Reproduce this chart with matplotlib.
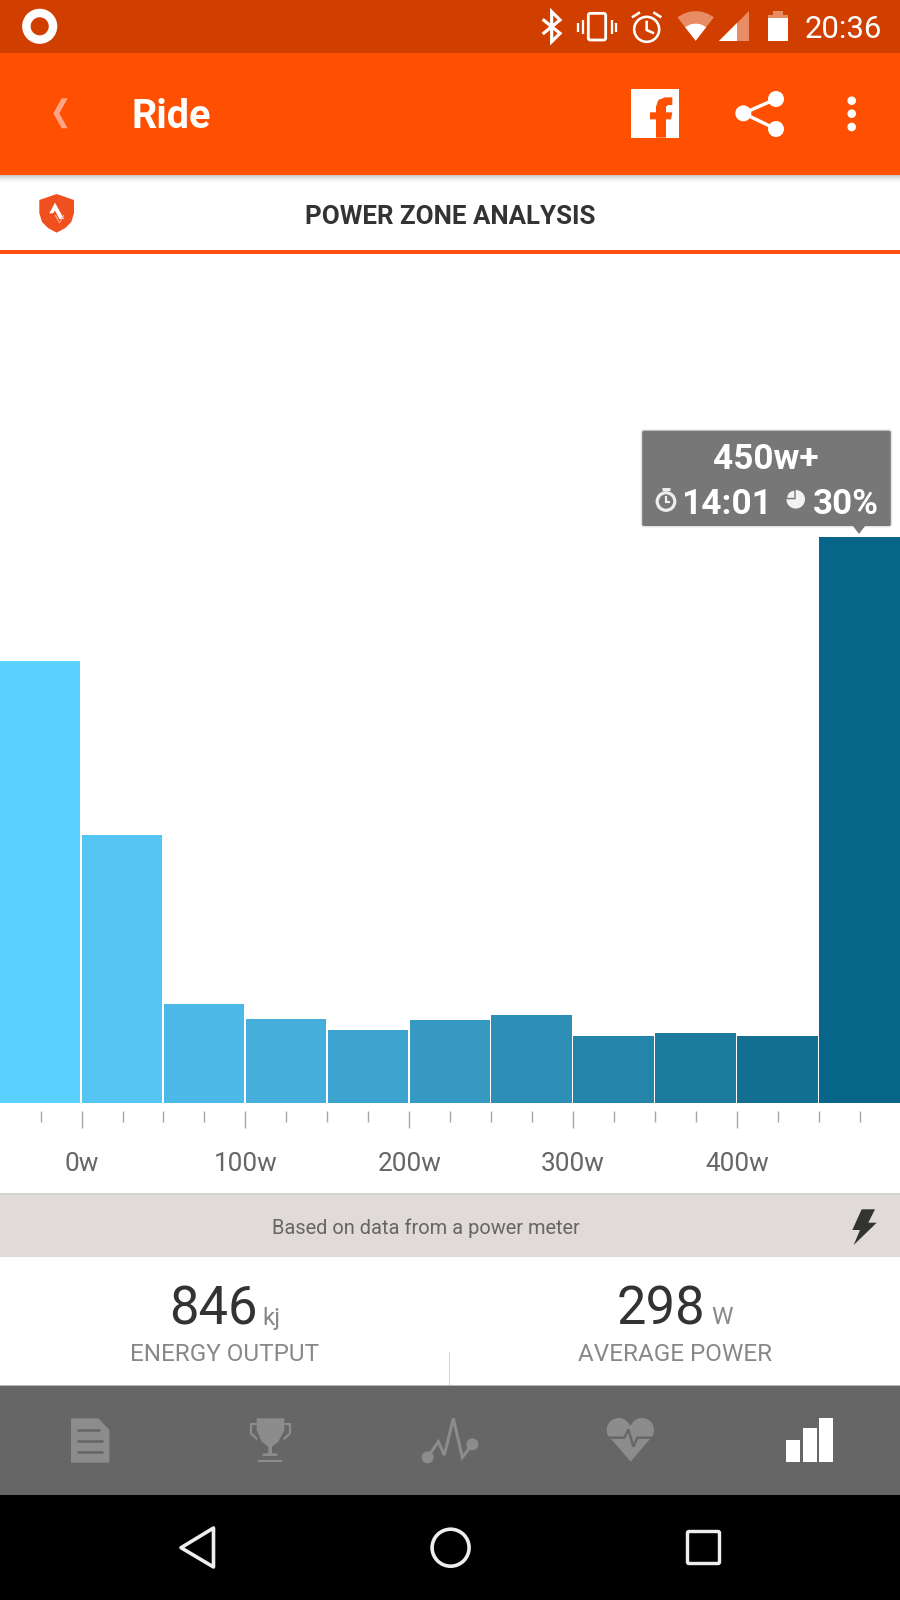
import matplotlib
matplotlib.use("Agg")
import matplotlib.pyplot as plt
from matplotlib.patches import Rectangle, Polygon, Circle, Wedge, FancyBboxPatch

plt.rcParams['font.family'] = ['Roboto', 'DejaVu Sans']

# ---- data ----
zone_starts = [-50, 0, 50, 100, 150, 200, 250, 300, 350, 400, 450]
zone_share = [23.4, 14.2, 5.25, 4.45, 3.87, 4.38, 4.65, 3.57, 3.73, 3.57, 30.0]
zone_colors = ['#5BD1FF', '#55C6F4', '#4CB9E8', '#45AEDB', '#3CA4CE', '#3599C2',
               '#2D8FB6', '#2484AA', '#1C7A9F', '#147092', '#066589']
major_ticks = [0, 100, 200, 300, 400]
major_labels = ['0w', '100w', '200w', '300w', '400w']
minor_ticks = [-25, 25, 50, 75, 125, 150, 175, 225, 250, 275, 325, 350, 375, 425, 450, 475]

W, H = 900, 1600
fig = plt.figure(figsize=(9, 16), dpi=100, facecolor='white')

# ---- chart ----
base_y, top_y = 1103, 253
ax = fig.add_axes([0, 1 - base_y / H, 1, (base_y - top_y) / H], zorder=1)
ax.patch.set_alpha(0)
ax.bar([s + 0.2 for s in zone_starts], zone_share, width=49.1, align='edge', color=zone_colors, linewidth=0)
ax.set_xlim(-49.8, 499.6)
ax.set_ylim(0, (base_y - top_y) / 18.87)
for s in ['top', 'left', 'right']:
    ax.spines[s].set_visible(False)
ax.spines['bottom'].set_position(('outward', 5.6))
ax.spines['bottom'].set_visible(False)
ax.set_yticks([])
ax.set_xticks(major_ticks)
ax.set_xticklabels(major_labels, fontsize=18.8, color='#666666')
ax.set_xticks(minor_ticks, minor=True)
ax.tick_params(axis='x', which='major', length=12.2, width=1.0, color='#AAA6A6', pad=17.5)
ax.tick_params(axis='x', which='minor', length=7.9, width=1.0, color='#AAA6A6')

# ---- screen chrome in pixel coordinates ----
ui = fig.add_axes([0, 0, 1, 1], zorder=2)
ui.set_xlim(0, W)
ui.set_ylim(H, 0)
ui.axis('off')
ui.patch.set_alpha(0)


def rect(x0, y0, x1, y1, c, **kw):
    ui.add_patch(Rectangle((x0, y0), x1 - x0, y1 - y0, facecolor=c, edgecolor='none', **kw))


def poly(pts, c, **kw):
    ui.add_patch(Polygon(pts, closed=True, facecolor=c, edgecolor='none', **kw))


def line(xs, ys, c, lw, **kw):
    ui.plot(xs, ys, color=c, lw=lw * 0.72, solid_capstyle=kw.pop('cap', 'butt'),
            solid_joinstyle=kw.pop('join', 'miter'), **kw)


def disc(x, y, r, c):
    ui.add_patch(Circle((x, y), r, facecolor=c, edgecolor='none'))


def ring(x, y, r, c, lw):
    ui.add_patch(Circle((x, y), r, facecolor='none', edgecolor=c, lw=lw * 0.72))


def txt(x, y, s, size, c, ha='center', weight='normal'):
    ui.text(x, y, s, fontsize=size, color=c, ha=ha, va='baseline', fontweight=weight)


def z5(x, y):
    return 530 + x / 3, y / 3


def pts5(seq):
    return [z5(x, y) for x, y in seq]


# bars of colour
rect(0, 0, W, 53, '#D13F00')
rect(0, 53, W, 175, '#FF4F00')
for i, c in enumerate(['#C9C9C9', '#D4D4D4', '#DEDEDE', '#E7E7E7', '#EFEFEF', '#F4F4F4', '#F8F8F8', '#FBFBFB']):
    rect(0, 175 + i, W, 176 + i, c)
rect(0, 250, W, 253.5, '#F9500F')
rect(0, 1194, W, 1257, '#E0DAD8')
rect(0, 1193, W, 1194.5, '#D5D3D3')
rect(0, 1385, W, 1495, '#666666')
rect(0, 1384.5, W, 1385.8, '#B5B5B5')
rect(0, 1495, W, 1600, '#000000')
rect(449.3, 1352, 450.3, 1385, '#D4D4D4')

# status bar
ring(39.7, 26.3, 13.3, 'white', 8.5)
wh = 'white'
semi = '#E88C64'
xs, ys = zip(*pts5([(38, 58), (90, 100), (65, 125), (65, 35), (90, 60), (38, 102)]))
line(xs, ys, wh, 3.2)
ui.add_patch(FancyBboxPatch(z5(175, 40), 52 / 3, 80 / 3, boxstyle='round,pad=0,rounding_size=2',
                            facecolor='none', edgecolor=wh, lw=2.8 * 0.72))
for x, y0, y1 in [(145, 68, 95), (158, 60, 103), (245, 60, 103), (258, 68, 95)]:
    (a, b), (c, d) = z5(x, y0), z5(x, y1)
    line([a, c], [b, d], wh, 2.3)
ring(*z5(350, 88), 12.5, wh, 2.6)
for seq in [[(350, 62), (350, 90), (372, 100)], [(306, 52), (330, 37)], [(394, 52), (370, 37)]]:
    xs, ys = zip(*pts5(seq))
    line(xs, ys, wh, 2.6)
tip = z5(497, 122)
ui.add_patch(Wedge(tip, 29.5, -128, -52, facecolor=semi, edgecolor='none'))
ui.add_patch(Wedge(tip, 17, -128, -52, facecolor=wh, edgecolor='none'))
poly(pts5([(567, 122), (658, 122), (658, 33)]), semi)
poly(pts5([(567, 122), (622, 122), (622, 70)]), wh)
poly(pts5([(730, 32), (760, 32), (760, 45), (775, 45), (775, 54), (715, 54), (715, 45), (730, 45)]), semi)
poly(pts5([(715, 54), (775, 54), (775, 124), (715, 124)]), wh)
txt(804.5, 37.7, '20:36', 22.4, wh, ha='left')

# app bar
poly([(67.7, 98.3), (61.7, 98.3), (53.3, 113.3), (61.7, 128.3), (67.7, 128.3), (59.3, 113.3)], '#FFA585')
txt(131.5, 128, 'Ride', 28.5, wh, ha='left', weight='bold')
poly(pts5([(303, 268), (447, 268), (447, 413), (303, 413)]), wh)
poly(pts5([(378, 413), (378, 358), (360, 358), (360, 337), (378, 337), (378, 320), (385, 300), (405, 292),
           (427, 292), (427, 315), (415, 315), (408, 320), (408, 337), (427, 337), (423, 358), (408, 358),
           (408, 413)]), '#FF4F00')
sh = pts5([(738, 297), (640, 340), (738, 387)])
xs, ys = zip(*sh)
line(xs, ys, wh, 3.4)
for x, y in sh:
    disc(x, y, 8, wh)
for y in [100.7, 113.7, 127]:
    disc(851.7, y, 4.3, wh)

# section header
shield = [(56.7, 194), (39.3, 200), (39.3, 213), (42, 222), (48, 228), (56.7, 232.7),
          (65.3, 228), (71.3, 222), (74, 213), (74, 200)]
poly(shield, '#F0501E')
poly([(49.3, 213.3), (55, 202.7), (64, 219), (59.5, 219), (55, 210.7), (53, 213.3)], wh)
poly([(56, 215), (59.5, 222), (63, 215), (64.5, 215), (59.5, 223.5), (54.5, 215)], '#F9B9A5')
txt(450, 224.5, 'POWER ZONE ANALYSIS', 18.6, '#333333', weight='bold')

# tooltip
ui.add_patch(FancyBboxPatch((641.5, 430), 250, 96.7, boxstyle='round,pad=0,rounding_size=2.5',
                            facecolor='#777777', edgecolor='#E4E4E4', lw=1))
poly([(853, 526), (865, 526), (859, 534)], '#777777')
txt(766, 469, '450w+', 25.4, wh, weight='bold')
txt(727, 514, '14:01', 25.4, wh, weight='bold')
txt(845.5, 514, '30%', 25.2, wh, weight='bold')
ring(666, 501.5, 8.8, '#EDEDED', 3.2)
line([666, 666, 670], [496, 502, 502], '#EDEDED', 2.2)
line([662, 670], [488.5, 488.5], '#EDEDED', 3)
ui.add_patch(Wedge((795.7, 499.3), 9.3, -90, 180, facecolor='#F2F2F2', edgecolor='none'))
ui.add_patch(Wedge((794.3, 497.8), 7, 180, 270, facecolor='#F2F2F2', edgecolor='none'))

# power-meter band
txt(425.7, 1234, 'Based on data from a power meter', 14.4, '#666666')
poly([(861.7, 1209.3), (875, 1209.3), (868.3, 1222.7), (876.7, 1222.7), (853.7, 1245), (860, 1230), (852.3, 1230)],
     '#333333')

# stats
txt(213, 1324.5, '846', 37.8, '#333333')
txt(262, 1324.5, 'kj', 17.5, '#888888', ha='left')
txt(224.5, 1361.3, 'ENERGY OUTPUT', 17.5, '#888888')
txt(661, 1324.5, '298', 37.8, '#333333')
txt(711, 1324.5, 'W', 17.5, '#888888', ha='left')
txt(675, 1361.3, 'AVERAGE POWER', 17.5, '#888888')

# bottom navigation
grey = '#8C8C8C'
dark = '#666666'


def z8(x, y):
    return 40 + x / 3, 1400 + y / 3


poly([z8(*p) for p in [(93, 55), (175, 55), (208, 90), (208, 188), (93, 188)]], grey)
for y, x1 in [(90, 180), (122, 190), (155, 190)]:
    (a, b), (c, d) = z8(112, y), z8(x1, y)
    line([a, c], [b, d], dark, 2.6)
poly([z8(*p) for p in [(650, 55), (733, 55), (733, 90), (715, 125), (696, 140), (696, 160), (712, 160), (712, 168),
                       (668, 168), (668, 160), (685, 160), (685, 140), (665, 125), (650, 90)]], grey)
for seq in [[(650, 72), (633, 72), (633, 100), (652, 118)], [(733, 72), (750, 72), (750, 100), (731, 118)],
            [(655, 182), (725, 182)]]:
    xs, ys = zip(*[z8(*p) for p in seq])
    line(xs, ys, grey, 2.2)
act = [z8(*p) for p in [(1163, 172), (1195, 125), (1213, 165), (1240, 55), (1267, 172), (1297, 133)]]
xs, ys = zip(*act)
line(xs, ys, grey, 3)
disc(*act[0], 6, grey)
disc(*act[-1], 6, grey)


def z9(x, y):
    return 580 + x / 3, 1400 + y / 3


disc(*z9(116, 90), 12, grey)
disc(*z9(186, 90), 12, grey)
poly([z9(*p) for p in [(83, 105), (152, 185), (220, 105), (152, 75)]], grey)
xs, ys = zip(*[z9(*p) for p in [(80, 113), (133, 113), (145, 88), (160, 140), (172, 113), (225, 113)]])
line(xs, ys, dark, 2.4)
for x0, y0, x1 in [(618, 120, 660), (668, 85, 710), (718, 55, 760)]:
    a, b = z9(x0, y0)
    c, d = z9(x1, 187)
    rect(a, b, c, d, wh)

# system keys
key = '#EEEEEE'
ui.add_patch(Polygon([(181, 1547.7), (213.5, 1528), (213.5, 1567)], closed=True, facecolor='none', edgecolor=key,
                     lw=3.6 * 0.72, joinstyle='round'))
ring(450.6, 1547.7, 18.5, key, 3.6)
ui.add_patch(FancyBboxPatch((687.5, 1531.5), 32, 32, boxstyle='round,pad=0,rounding_size=1.5', facecolor='none',
                            edgecolor=key, lw=3.4 * 0.72))

fig.savefig('out.png', dpi=100)
